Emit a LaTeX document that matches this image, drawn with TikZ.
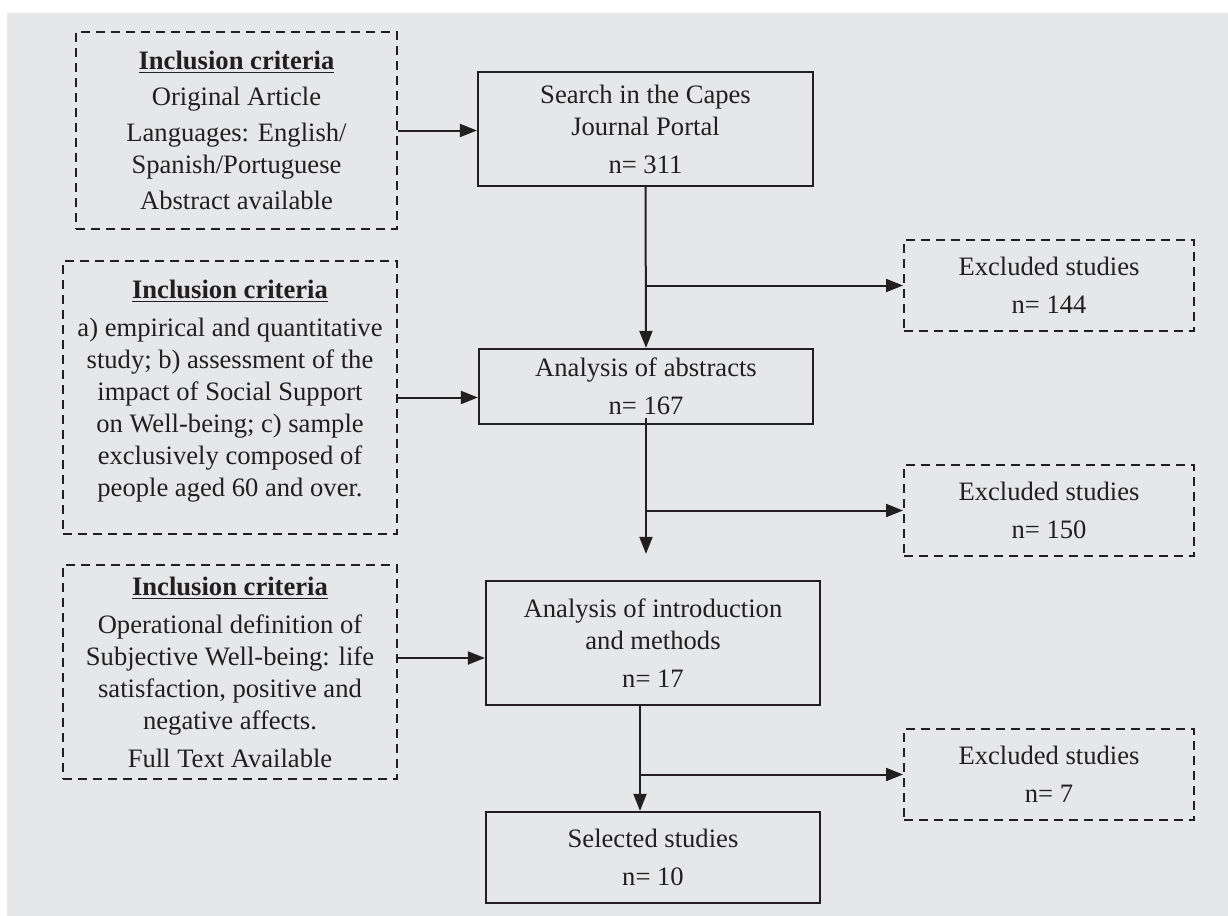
\documentclass[tikz,border=0pt]{standalone}
\usepackage{fontspec}
\setmainfont{Liberation Serif}
\usetikzlibrary{calc,arrows.meta}
\definecolor{ink}{HTML}{231F20}
\definecolor{panel}{HTML}{E6E7E8}
\newcommand{\incltitle}{\underline{\textbf{Inclusion criteria}}}

\begin{document}
\begin{tikzpicture}[x=0.5pt,y=-0.5pt,
  every node/.style={font=\fontsize{13.3}{16}\selectfont,text=ink,align=center},
  stagebox/.style={draw=ink,rectangle,line width=1.1pt,inner sep=0pt},
  critbox/.style={draw=ink,rectangle,line width=1pt,dash pattern=on 4.5pt off 3pt,inner sep=0pt},
  flow/.style={-{Triangle[length=8.5pt,width=6.5pt]},draw=ink,line width=1pt}]

\useasboundingbox (0,0) rectangle (1228,916);
\fill[panel] (7,13) rectangle (1228,916);

% inclusion criteria (left column)
\node[critbox,minimum width=160.5pt,minimum height=98.5pt](inc1) at (236.5,130.5)
  {\incltitle\\[2pt]Original Article\\[2pt]Languages: English/\\Spanish/Portuguese\\[2pt]Abstract available};
\node[critbox,minimum width=167pt,minimum height=136.5pt](inc2) at (230,397.5)
  {\incltitle\\[3pt]a) empirical and quantitative\\study; b) assessment of the\\impact of Social Support\\on Well-being; c) sample\\exclusively composed of\\people aged 60 and over.\\[-7pt]};
\node[critbox,minimum width=167pt,minimum height=107pt](inc3) at (230,672)
  {\incltitle\\[3pt]Operational definition of\\Subjective Well-being: life\\satisfaction, positive and\\negative affects.\\[3pt]Full Text Available};

% stages (middle column)
\node[stagebox,minimum width=167.5pt,minimum height=57pt](search) at (645.5,129)
  {Search in the Capes\\Journal Portal\\[3pt]n= 311};
\node[stagebox,minimum width=167pt,minimum height=37.5pt](abs) at (646,386.5)
  {Analysis of abstracts\\[3pt]n= 167};
\node[stagebox,minimum width=167pt,minimum height=62pt](intro) at (653,643)
  {Analysis of introduction\\and methods\\[3pt]n= 17};
\node[stagebox,minimum width=167pt,minimum height=45.5pt](sel) at (653,857.5)
  {Selected studies\\[3pt]n= 10};

% excluded (right column)
\node[critbox,minimum width=145pt,minimum height=45.5pt](ex1) at (1049,285.5)
  {Excluded studies\\[3pt]n= 144};
\node[critbox,minimum width=145pt,minimum height=45.5pt](ex2) at (1049,510.5)
  {Excluded studies\\[3pt]n= 150};
\node[critbox,minimum width=145pt,minimum height=45.5pt](ex3) at (1049,774.5)
  {Excluded studies\\[3pt]n= 7};

% criteria feed the stages
\draw[flow] (inc1.east) -- (inc1.east -| search.west);
\draw[flow] (inc2.east) -- (inc2.east -| abs.west);
\coordinate (inc3out) at ($(inc3.east)+(0,-14)$);
\draw[flow] (inc3out) -- (inc3out -| intro.west);

% main flow with exclusions
\draw[flow] (search.south) -- (abs.north);
\draw[flow] (search.south |- ex1.west) -- (ex1.west);

\coordinate (absout) at ($(abs.south)+(0,-7)$);
\coordinate (absend) at ($(intro.north)+(-7,-26)$);
\draw[flow] (absout) -- (absout |- absend);
\draw[flow] (absout |- ex2.west) -- (ex2.west);

\coordinate (introout) at ($(intro.south)+(-13,0)$);
\draw[flow] (introout) -- (introout |- sel.north);
\draw[flow] (introout |- ex3.west) -- (ex3.west);

\end{tikzpicture}
\end{document}
